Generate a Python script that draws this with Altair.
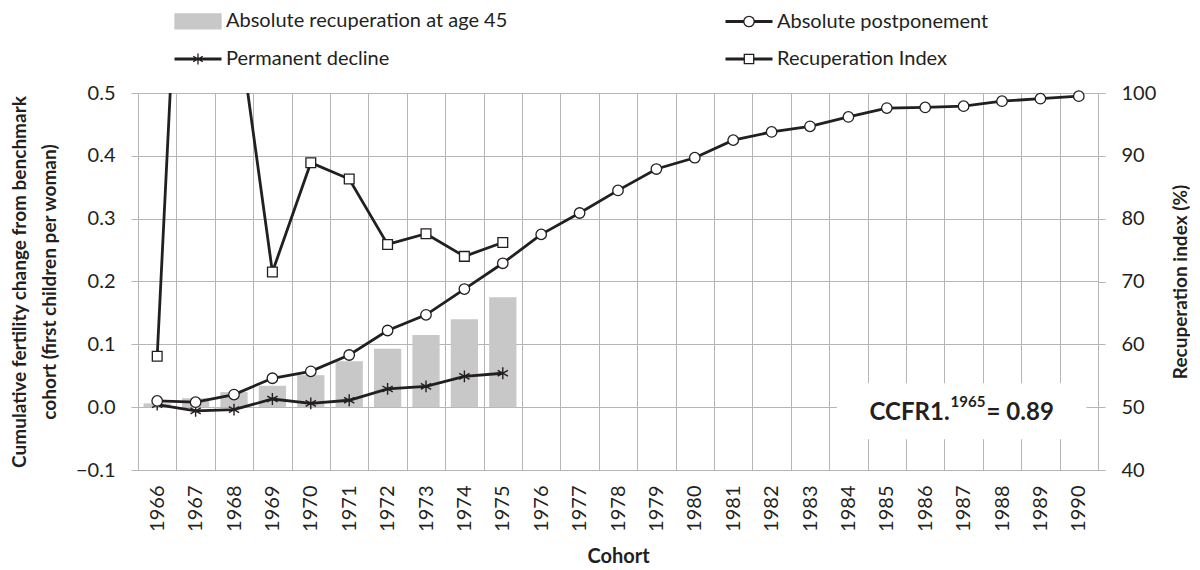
import altair as alt
import pandas as pd

# ---------------- data ----------------
cohorts = list(range(1966, 1991))
postponement = [0.010, 0.008, 0.020, 0.046, 0.057, 0.083, 0.122, 0.147, 0.188, 0.229,
                0.275, 0.309, 0.345, 0.379, 0.397, 0.425, 0.438, 0.447, 0.462, 0.476,
                0.477, 0.479, 0.487, 0.491, 0.495]
decline = [0.004, -0.006, -0.004, 0.013, 0.006, 0.011, 0.029, 0.033, 0.049, 0.054]
recuperation = [0.006, 0.014, 0.024, 0.034, 0.051, 0.073, 0.093, 0.115, 0.140, 0.175]
rec_index = [58.1, 182.0, 116.0, 71.5, 88.9, 86.3, 75.9, 77.6, 74.0, 76.2]

# legend order (filled column by column)
series_names = ["Absolute recuperation at age 45", "Permanent decline",
                "Absolute postponement", "Recuperation Index"]

left_ticks = [-0.1, 0.0, 0.1, 0.2, 0.3, 0.4, 0.5]
right_ticks = [40, 50, 60, 70, 80, 90, 100]

ann_cohort = [1985]
ann_value = [-0.02]
ann_text = ["CCFR1.", "1965", "= 0.89"]
box_from = [1984]
box_to = [1990]
box_top = [0.038]
box_bottom = [-0.051]

# ---------------- table ----------------
n = len(cohorts)


def pad(lst):
    return lst + [None] * (n - len(lst))


df = pd.DataFrame({
    "cohort": cohorts,
    "post": postponement,
    "decline": pad(decline),
    "recup": pad(recuperation),
    "ri": pad(rec_index),
})
ann_df = pd.DataFrame({"cohort": ann_cohort, "v": ann_value})
box_df = pd.DataFrame({"x0": box_from, "x1": box_to, "y0": box_top, "y1": box_bottom})
legend_df = pd.DataFrame({"series": series_names})

# ---------------- styles ----------------
DARK = "#231f20"
GRID = "#b5b5b5"
BAR = "#c8c8c9"
FONT = "Lato"

xscale = alt.Scale(type="band", domain=cohorts, paddingInner=0, paddingOuter=0)
xaxis = alt.Axis(title="Cohort", labelAngle=270, labelFontSize=20, labelPadding=15,
                 labelColor=DARK, ticks=False, domain=False, grid=True, tickBand="extent",
                 gridColor=GRID, gridWidth=1, titleFontSize=20, titleFontWeight="bold",
                 titleColor=DARK, titleY=86, titleBaseline="middle")
yscale = alt.Scale(domain=[-0.1, 0.5], nice=False, zero=False)
yaxis = alt.Axis(values=left_ticks, format=".1f", tickSize=7, tickColor=GRID, tickWidth=1,
                 labelPadding=16, labelFontSize=20, labelColor=DARK, domain=False,
                 grid=True, gridColor=GRID, gridWidth=1,
                 title=["Cumulative fertility change from benchmark",
                        "cohort (first children per woman)"],
                 titleFontSize=19, titleFontWeight="bold", titleColor=DARK,
                 titleAngle=270, titleX=-119, titleBaseline="middle", titleLineHeight=30)
rscale = alt.Scale(domain=[40, 100], nice=False, zero=False)
raxis = alt.Axis(orient="right", values=right_ticks, tickSize=7, tickColor=GRID, tickWidth=1,
                 labelPadding=16, labelFontSize=20, labelColor=DARK, domain=False, grid=False,
                 title="Recuperation index (%)", titleFontSize=19, titleFontWeight="bold",
                 titleColor=DARK, titleAngle=270, titleX=82, titleBaseline="middle")

X = alt.X("cohort:O", scale=xscale, axis=xaxis)

ASTER = "M0,-1V1M-0.87,-0.5L0.87,0.5M-0.87,0.5L0.87,-0.5"

bars = alt.Chart(df).mark_bar(color=BAR, width=alt.RelativeBandSize(0.71)).encode(
    x=X, y=alt.Y("recup:Q", scale=yscale, axis=yaxis))

box = alt.Chart(box_df).mark_rect(color="white").encode(
    x=alt.X("x0:O", bandPosition=0.2, scale=xscale, axis=xaxis),
    x2=alt.X2("x1", bandPosition=0.7),
    y=alt.Y("y0:Q", scale=yscale, axis=yaxis), y2="y1:Q")

ann_base = alt.Chart(ann_df).encode(
    x=alt.X("cohort:O", bandPosition=0, scale=xscale, axis=xaxis),
    y=alt.Y("v:Q", scale=yscale, axis=yaxis))
t1 = ann_base.mark_text(text=ann_text[0], font=FONT, fontWeight="bold", fontSize=24,
                        align="left", baseline="alphabetic", dx=2, color=DARK)
t2 = ann_base.mark_text(text=ann_text[1], font=FONT, fontWeight="bold", fontSize=15,
                        align="left", baseline="alphabetic", dx=83, dy=-13, color=DARK)
t3 = ann_base.mark_text(text=ann_text[2], font=FONT, fontWeight="bold", fontSize=24,
                        align="left", baseline="alphabetic", dx=119, color=DARK)

dec_line = alt.Chart(df).mark_line(color=DARK, strokeWidth=2.8).encode(
    x=X, y=alt.Y("decline:Q", scale=yscale, axis=yaxis))
dec_pts = alt.Chart(df).mark_point(shape=ASTER, filled=False, stroke=DARK, strokeWidth=1.4,
                                   size=140, opacity=1).encode(
    x=X, y=alt.Y("decline:Q", scale=yscale, axis=yaxis))
post_line = alt.Chart(df).mark_line(color=DARK, strokeWidth=2.8).encode(
    x=X, y=alt.Y("post:Q", scale=yscale, axis=yaxis))
post_pts = alt.Chart(df).mark_point(shape="circle", filled=True, fill="white", stroke=DARK,
                                    strokeWidth=1.3, size=110, opacity=1).encode(
    x=X, y=alt.Y("post:Q", scale=yscale, axis=yaxis))

# legend (scales only, no marks drawn)
LEG_PATHS = [
    "M-2.3,-0.75H2.3V0.75H-2.3Z",
    "M-2.35,-0.09H2.35M-2.35,0.09H2.35M-2.35,0H2.35M0,-0.55V0.55"
    "M-0.48,-0.28L0.48,0.28M-0.48,0.28L0.48,-0.28",
    "M-2.35,-0.09H-0.52M-2.35,0.09H-0.52M-2.35,0H-0.52M0.52,-0.09H2.35M0.52,0.09H2.35M0.52,0H2.35"
    "M-0.52,0A0.52,0.52,0,1,1,0.52,0A0.52,0.52,0,1,1,-0.52,0Z",
    "M-2.35,-0.09H-0.47M-2.35,0.09H-0.47M-2.35,0H-0.47M0.47,-0.09H2.35M0.47,0.09H2.35M0.47,0H2.35"
    "M-0.47,-0.47H0.47V0.47H-0.47Z",
]
leg = alt.Legend(title=None, orient="none", legendX=49, legendY=-83, columns=2,
                 columnPadding=214, rowPadding=16, symbolSize=400, symbolStrokeWidth=1.3,
                 symbolOpacity=1, labelFontSize=20, labelFont=FONT, labelOffset=17,
                 labelLimit=600, labelColor=DARK, padding=0)
legend_layer = alt.Chart(legend_df).mark_point(opacity=1).encode(
    shape=alt.Shape("series:N", scale=alt.Scale(domain=series_names, range=LEG_PATHS), legend=leg),
    fill=alt.Fill("series:N", scale=alt.Scale(domain=series_names,
                                              range=[BAR, "white", "white", "white"]), legend=leg),
    stroke=alt.Stroke("series:N", scale=alt.Scale(domain=series_names,
                                                  range=[BAR, DARK, DARK, DARK]), legend=leg),
).transform_filter("datum.series == 'none'")

left = alt.layer(bars, box, t1, t2, t3, dec_line, post_line, dec_pts, post_pts, legend_layer)

ri_line = alt.Chart(df).mark_line(color=DARK, strokeWidth=2.8, clip=True).encode(
    x=X, y=alt.Y("ri:Q", scale=rscale, axis=raxis))
ri_pts = alt.Chart(df).mark_point(shape="square", filled=True, fill="white", stroke=DARK,
                                  strokeWidth=1.3, size=95, opacity=1, clip=True).encode(
    x=X, y=alt.Y("ri:Q", scale=rscale, axis=raxis))
right = alt.layer(ri_line, ri_pts)

chart = alt.layer(left, right).resolve_scale(y="independent").properties(
    width=960, height=377,
    autosize=alt.AutoSizeParams(type="none"),
    padding={"left": 130, "top": 85, "right": 92, "bottom": 100},
).configure(font=FONT).configure_view(stroke=None)

chart.save("out.html", embed_options={"renderer": "svg", "actions": False})
